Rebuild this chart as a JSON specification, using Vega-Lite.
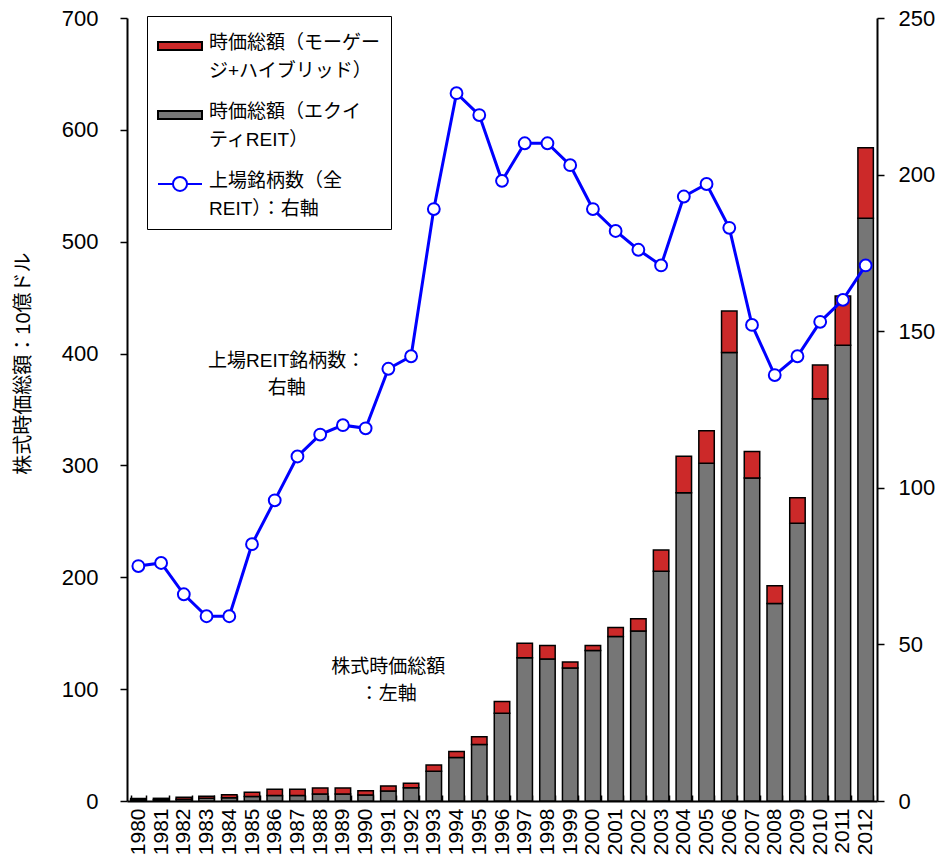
{
  "$schema": "https://vega.github.io/schema/vega-lite/v6.json",
  "width": 750,
  "height": 783,
  "autosize": {"type": "none"},
  "padding": {"left": 127, "top": 18, "right": 60, "bottom": 62},
  "background": "white",
  "config": {
    "view": {"stroke": null},
    "font": "Liberation Sans, Noto Sans CJK JP",
    "style": {"guide-label": {"lineHeight": 28}},
    "axis": {
      "labelFont": "Liberation Sans, Noto Sans CJK JP",
      "labelColor": "black",
      "domainColor": "black",
      "tickColor": "black",
      "grid": false
    }
  },
  "data": {
    "values": [
      {"year": 1980, "equity": 1.1, "mortgage": 1.2, "reits": 75},
      {"year": 1981, "equity": 1.1, "mortgage": 1.3, "reits": 76},
      {"year": 1982, "equity": 1.5, "mortgage": 1.8, "reits": 66},
      {"year": 1983, "equity": 2.4, "mortgage": 1.9, "reits": 59},
      {"year": 1984, "equity": 2.8, "mortgage": 2.7, "reits": 59},
      {"year": 1985, "equity": 4.0, "mortgage": 3.8, "reits": 82},
      {"year": 1986, "equity": 5.0, "mortgage": 5.5, "reits": 96},
      {"year": 1987, "equity": 5.0, "mortgage": 5.5, "reits": 110},
      {"year": 1988, "equity": 6.3, "mortgage": 5.4, "reits": 117},
      {"year": 1989, "equity": 6.2, "mortgage": 5.5, "reits": 120},
      {"year": 1990, "equity": 5.3, "mortgage": 3.9, "reits": 119},
      {"year": 1991, "equity": 9.0, "mortgage": 4.5, "reits": 138},
      {"year": 1992, "equity": 11.8, "mortgage": 4.1, "reits": 142},
      {"year": 1993, "equity": 26.5, "mortgage": 5.7, "reits": 189},
      {"year": 1994, "equity": 38.8, "mortgage": 5.5, "reits": 226},
      {"year": 1995, "equity": 50.5, "mortgage": 7.0, "reits": 219},
      {"year": 1996, "equity": 78.5, "mortgage": 10.5, "reits": 198},
      {"year": 1997, "equity": 128.0, "mortgage": 13.0, "reits": 210},
      {"year": 1998, "equity": 127.0, "mortgage": 12.0, "reits": 210},
      {"year": 1999, "equity": 119.0, "mortgage": 5.3, "reits": 203},
      {"year": 2000, "equity": 134.5, "mortgage": 4.5, "reits": 189},
      {"year": 2001, "equity": 147.0, "mortgage": 8.0, "reits": 182},
      {"year": 2002, "equity": 152.0, "mortgage": 11.0, "reits": 176},
      {"year": 2003, "equity": 205.5, "mortgage": 18.8, "reits": 171},
      {"year": 2004, "equity": 275.5, "mortgage": 32.8, "reits": 193},
      {"year": 2005, "equity": 302.0, "mortgage": 29.0, "reits": 197},
      {"year": 2006, "equity": 401.0, "mortgage": 37.0, "reits": 183},
      {"year": 2007, "equity": 288.7, "mortgage": 23.8, "reits": 152},
      {"year": 2008, "equity": 176.5, "mortgage": 16.0, "reits": 136},
      {"year": 2009, "equity": 248.4, "mortgage": 22.8, "reits": 142},
      {"year": 2010, "equity": 359.5, "mortgage": 30.2, "reits": 153},
      {"year": 2011, "equity": 407.5, "mortgage": 44.0, "reits": 160},
      {"year": 2012, "equity": 521.0, "mortgage": 63.0, "reits": 171}
    ]
  },
  "encoding": {
    "x": {
      "field": "year",
      "type": "ordinal",
      "scale": {"paddingInner": 0.32, "paddingOuter": 0.16},
      "axis": {
        "title": null,
        "labelAngle": 270,
        "labelAlign": "right",
        "labelBaseline": "middle",
        "labelFontSize": 21,
        "labelPadding": 13,
        "tickBand": "extent",
        "tickSize": -6,
        "tickWidth": 1.5,
        "domainWidth": 2
      }
    }
  },
  "layer": [
    {
      "layer": [
        {
          "transform": [{"fold": ["equity", "mortgage"], "as": ["series", "value"]}],
          "mark": {"type": "bar", "stroke": "black", "strokeWidth": 1.5},
          "encoding": {
            "y": {
              "field": "value",
              "type": "quantitative",
              "stack": "zero",
              "scale": {"domain": [0, 700], "nice": false},
              "axis": {
                "title": "株式時価総額：10億ドル",
                "titleFont": "Liberation Sans, Noto Sans CJK JP",
                "titleFontSize": 20,
                "titleFontWeight": "normal",
                "titleColor": "black",
                "titleAngle": 270,
                "titleAlign": "center",
                "titleBaseline": "middle",
                "titleX": -104,
                "titleY": 345,
                "values": [0, 100, 200, 300, 400, 500, 600, 700],
                "labelFontSize": 22,
                "labelPadding": 22,
                "tickSize": 7,
                "tickWidth": 1.5,
                "domainWidth": 2
              }
            },
            "order": {"field": "series", "sort": "ascending"},
            "fill": {
              "field": "series",
              "type": "nominal",
              "scale": {
                "domain": ["mortgage", "equity", "reits"],
                "range": ["#CC2929", "#767676", "white"]
              },
              "legend": {
                "orient": "none", "legendX": 20, "legendY": -2, "title": null,
                "strokeColor": "black", "fillColor": "white", "padding": 10, "rowPadding": 14, "labelOffset": 6,
                "labelFont": "Liberation Sans, Noto Sans CJK JP", "labelFontSize": 19, "labelColor": "black", "labelLimit": 400,
                "labelBaseline": "alphabetic", "symbolSize": 1936, "symbolStrokeWidth": 2,
                "labelExpr": "datum.value == 'mortgage' ? ['時価総額（モーゲー', 'ジ+ハイブリッド）'] : datum.value == 'equity' ? ['時価総額（エクイ', 'ティREIT）'] : ['上場銘柄数（全', 'REIT）：右軸']"
              }
            }
          }
        },
        {
          "data": {
            "values": [
              {"year": 1986, "v": 393, "note": ["上場REIT銘柄数：", "右軸"]},
              {"year": 1991, "v": 120, "note": ["株式時価総額", "：左軸"]}
            ]
          },
          "mark": {
            "type": "text",
            "font": "Liberation Sans, Noto Sans CJK JP",
            "fontSize": 19,
            "lineHeight": 27,
            "align": "center",
            "baseline": "middle",
            "color": "black",
            "dx": {"expr": "datum.year == 1986 ? 12 : 0"}
          },
          "encoding": {
            "y": {"field": "v", "type": "quantitative"},
            "text": {"field": "note"}
          }
        },
        {
          "transform": [
            {"fold": ["equity", "mortgage", "reits"], "as": ["series", "value"]},
            {"filter": "false"}
          ],
          "mark": {"type": "point", "size": 1936, "strokeWidth": 2, "opacity": 1},
          "encoding": {
            "y": {"field": "value", "type": "quantitative"},
            "fill": {
              "field": "series",
              "type": "nominal",
              "legend": {
                "orient": "none", "legendX": 20, "legendY": -2, "title": null,
                "strokeColor": "black", "fillColor": "white", "padding": 10, "rowPadding": 14, "labelOffset": 6,
                "labelFont": "Liberation Sans, Noto Sans CJK JP", "labelFontSize": 19, "labelColor": "black", "labelLimit": 400,
                "labelBaseline": "alphabetic", "symbolSize": 1936, "symbolStrokeWidth": 2,
                "labelExpr": "datum.value == 'mortgage' ? ['時価総額（モーゲー', 'ジ+ハイブリッド）'] : datum.value == 'equity' ? ['時価総額（エクイ', 'ティREIT）'] : ['上場銘柄数（全', 'REIT）：右軸']"
              }
            },
            "stroke": {
              "field": "series",
              "type": "nominal",
              "scale": {
                "domain": ["mortgage", "equity", "reits"],
                "range": ["black", "black", "#0000FF"]
              },
              "legend": {
                "orient": "none", "legendX": 20, "legendY": -2, "title": null,
                "strokeColor": "black", "fillColor": "white", "padding": 10, "rowPadding": 14, "labelOffset": 6,
                "labelFont": "Liberation Sans, Noto Sans CJK JP", "labelFontSize": 19, "labelColor": "black", "labelLimit": 400,
                "labelBaseline": "alphabetic", "symbolSize": 1936, "symbolStrokeWidth": 2,
                "labelExpr": "datum.value == 'mortgage' ? ['時価総額（モーゲー', 'ジ+ハイブリッド）'] : datum.value == 'equity' ? ['時価総額（エクイ', 'ティREIT）'] : ['上場銘柄数（全', 'REIT）：右軸']"
              }
            },
            "shape": {
              "field": "series",
              "type": "nominal",
              "scale": {
                "domain": ["mortgage", "equity", "reits"],
                "range": [
                  "M-1,-0.32H1V0.04H-1Z",
                  "M-1,-0.32H1V0.04H-1Z",
                  "M-1,-0.14H-0.32M0.32,-0.14H1M-0.32,-0.14A0.32,0.32 0 1,1 0.32,-0.14A0.32,0.32 0 1,1 -0.32,-0.14Z"
                ]
              },
              "legend": {
                "orient": "none", "legendX": 20, "legendY": -2, "title": null,
                "strokeColor": "black", "fillColor": "white", "padding": 10, "rowPadding": 14, "labelOffset": 6,
                "labelFont": "Liberation Sans, Noto Sans CJK JP", "labelFontSize": 19, "labelColor": "black", "labelLimit": 400,
                "labelBaseline": "alphabetic", "symbolSize": 1936, "symbolStrokeWidth": 2,
                "labelExpr": "datum.value == 'mortgage' ? ['時価総額（モーゲー', 'ジ+ハイブリッド）'] : datum.value == 'equity' ? ['時価総額（エクイ', 'ティREIT）'] : ['上場銘柄数（全', 'REIT）：右軸']"
              }
            }
          }
        }
      ]
    },
    {
      "layer": [
        {
          "mark": {"type": "line", "strokeWidth": 3, "stroke": "#0000FF"},
          "encoding": {
            "y": {
              "field": "reits",
              "type": "quantitative",
              "scale": {"domain": [0, 250], "nice": false},
              "axis": {
                "title": null,
                "orient": "right",
                "values": [0, 50, 100, 150, 200, 250],
                "labelFontSize": 22,
                "labelPadding": 14,
                "tickSize": 7,
                "tickWidth": 1.5,
                "domainWidth": 2
              }
            }
          }
        },
        {
          "mark": {"type": "point", "filled": true, "fill": "white", "stroke": "#0000FF", "strokeWidth": 2, "size": 140, "opacity": 1},
          "encoding": {
            "y": {"field": "reits", "type": "quantitative"}
          }
        }
      ]
    }
  ],
  "resolve": {"scale": {"y": "independent"}}
}
